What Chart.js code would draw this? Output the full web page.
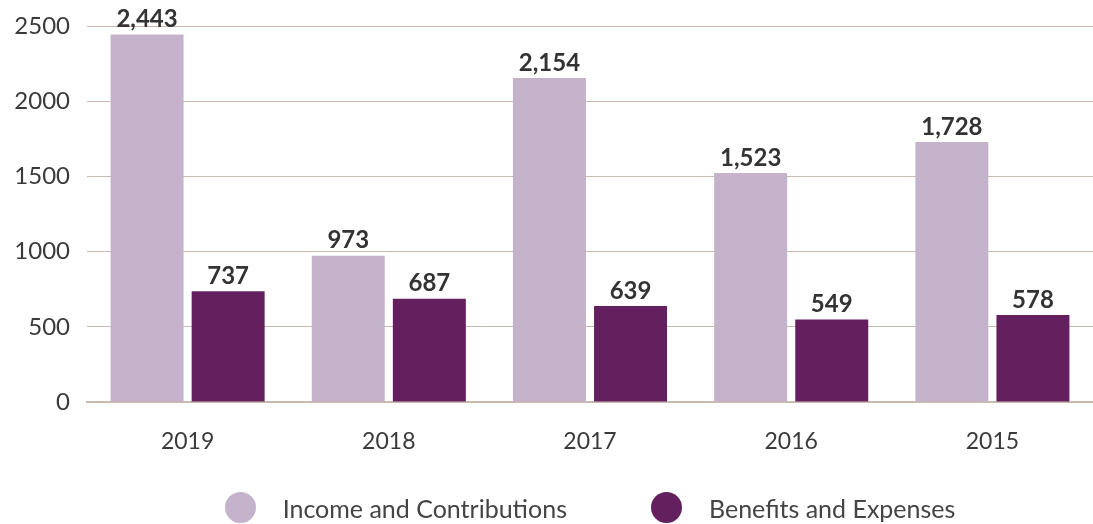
<!DOCTYPE html>
<html>
<head>
<meta charset="utf-8">
<script src="https://cdn.jsdelivr.net/npm/chart.js@4"></script>
<style>
  html, body { margin: 0; padding: 0; background: #fff; }
  #wrap { position: relative; width: 1093px; height: 524px; }
  #legend {
    position: absolute; left: 87px; right: 0; top: 492px;
    display: flex; justify-content: center; gap: 84px;
    font-family: Lato, sans-serif; font-size: 25px; color: #444;
  }
  #legend .item { display: flex; align-items: center; }
  #legend .dot { width: 31px; height: 31px; border-radius: 50%; margin-right: 27px; }
</style>
</head>
<body>
<div id="wrap">
  <canvas id="chart" width="1093" height="524"></canvas>
  <div id="legend"></div>
</div>
<script>
const years = ['2019', '2018', '2017', '2016', '2015'];
const income = [2443, 973, 2154, 1523, 1728];
const benefits = [737, 687, 639, 549, 578];
const seriesNames = ['Income and Contributions', 'Benefits and Expenses'];
const seriesColors = ['#c5b3cc', '#631f5e'];

const gridColor = '#c9b9ae';
const textColor = '#3a3a3a';

// value labels above each bar
const barValues = {
  id: 'barValues',
  afterDatasetsDraw(chart) {
    const ctx = chart.ctx;
    ctx.save();
    ctx.font = 'bold 24px Lato, sans-serif';
    ctx.fillStyle = '#333';
    ctx.textAlign = 'center';
    ctx.textBaseline = 'bottom';
    chart.data.datasets.forEach((ds, i) => {
      chart.getDatasetMeta(i).data.forEach((bar, j) => {
        ctx.fillText(ds.data[j].toLocaleString('en-US'), bar.x, bar.y - 3);
      });
    });
    ctx.restore();
  }
};

const chart = new Chart(document.getElementById('chart'), {
  type: 'bar',
  data: {
    labels: years,
    datasets: [
      { label: seriesNames[0], data: income, backgroundColor: seriesColors[0] },
      { label: seriesNames[1], data: benefits, backgroundColor: seriesColors[1] }
    ]
  },
  options: {
    responsive: false,
    animation: false,
    categoryPercentage: 0.806,
    barPercentage: 0.9,
    layout: { padding: { top: 26, right: 0, left: 0, bottom: 62 } },
    plugins: { legend: { display: false }, tooltip: { enabled: false } },
    scales: {
      x: {
        grid: { display: false, drawTicks: false },
        border: { color: gridColor, width: 2 },
        ticks: { color: textColor, padding: 26, font: { family: 'Lato, sans-serif', size: 23 } },
        afterFit: s => { s.height = 60; }
      },
      y: {
        min: 0,
        max: 2500,
        ticks: {
          stepSize: 500, color: textColor, padding: 17,
          font: { family: 'Lato, sans-serif', size: 24 },
          callback: v => String(v)
        },
        grid: { color: gridColor, lineWidth: 1, drawTicks: false },
        border: { display: false },
        afterFit: s => { s.width = 87; s.paddingTop = 0; s.paddingBottom = 0; }
      }
    }
  },
  plugins: [barValues]
});

// legend built from the chart datasets
const legendEl = document.getElementById('legend');
chart.data.datasets.forEach(ds => {
  const item = document.createElement('div');
  item.className = 'item';
  const dot = document.createElement('span');
  dot.className = 'dot';
  dot.style.background = ds.backgroundColor;
  const label = document.createElement('span');
  label.textContent = ds.label;
  item.appendChild(dot);
  item.appendChild(label);
  legendEl.appendChild(item);
});
</script>
</body>
</html>
